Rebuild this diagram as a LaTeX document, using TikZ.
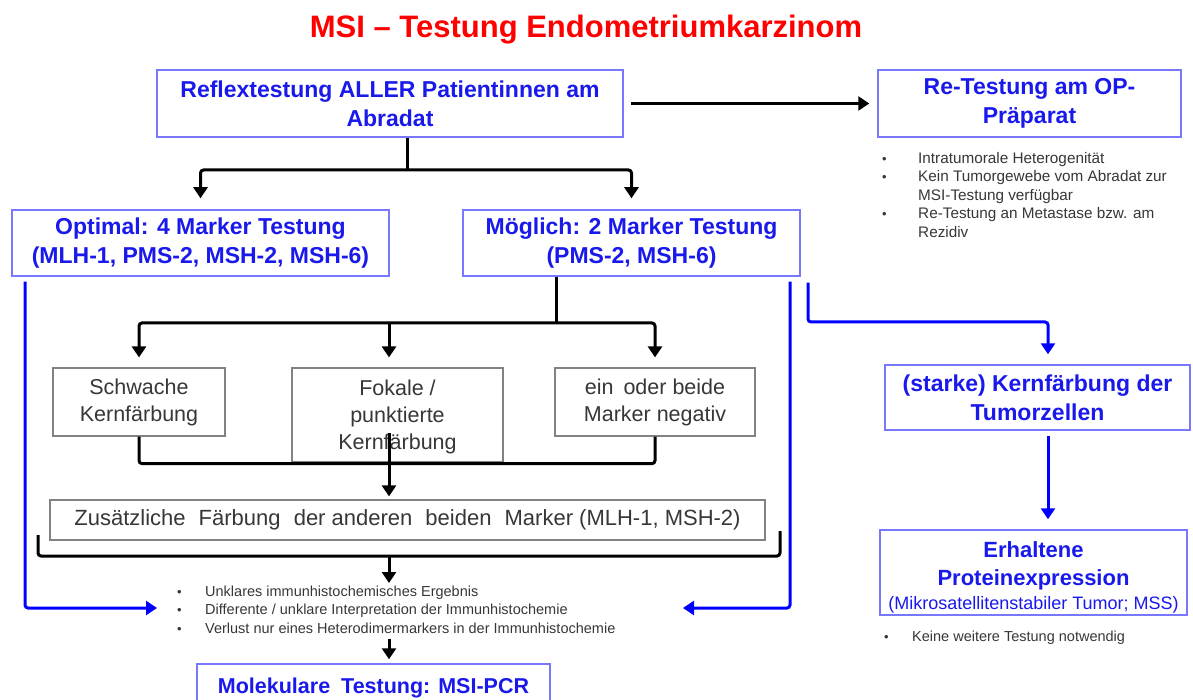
\documentclass[tikz,border=0pt]{standalone}
\usepackage{fontspec}
\setmainfont{Liberation Sans}
\usetikzlibrary{arrows.meta,calc}
\definecolor{tblue}{RGB}{25,25,235}
\definecolor{bblue}{RGB}{120,120,255}
\definecolor{lblue}{RGB}{0,0,255}
\definecolor{tred}{RGB}{255,0,0}
\definecolor{tgray}{RGB}{55,55,55}
\definecolor{bgray}{RGB}{130,130,130}
\newcommand{\bl}{{\fontsize{13}{13}\selectfont\textbullet}}
\begin{document}
\begin{tikzpicture}[x=1pt,y=-1pt,
  bbox/.style={draw=bblue, line width=1.5pt, text=tblue, font=\fontsize{23}{29}\selectfont\bfseries, align=center, inner sep=0pt},
  gbox/.style={draw=bgray, line width=1.2pt, text=tgray, font=\fontsize{21.5}{27}\selectfont, align=center, inner sep=0pt},
  bul/.style={font=\fontsize{14.5}{18.5}\selectfont, text=tgray, inner sep=0pt, anchor=north west},
  blk/.style={line width=3pt, black, rounded corners=3pt},
  blu/.style={line width=3pt, lblue, rounded corners=3pt},
  arr/.style={-{Triangle[width=14pt,length=11pt]}},
]
\useasboundingbox (0,0) rectangle (1193,700);
\fill[white] (0,0) rectangle (1193,700);

\node[text=tred, font=\fontsize{31}{36}\selectfont\bfseries] (title) at (586,30) {MSI -- Testung Endometriumkarzinom};

\node[bbox, minimum width=466pt, minimum height=67pt] (b1) at (390,103.5) {Reflextestung ALLER Patientinnen am\\Abradat};
\node[bbox, minimum width=303pt, minimum height=67pt] (b2) at (1029.5,103.5) {Re-Testung am OP-\\Präparat};
\node[bbox, minimum width=377pt, minimum height=66pt] (b3) at (200.5,243) {Optimal: 4 Marker Testung\\(MLH-1, PMS-2, MSH-2, MSH-6)};
\node[bbox, minimum width=337pt, minimum height=66pt] (b4) at (631.5,243) {Möglich: 2 Marker Testung\\(PMS-2, MSH-6)};

\node[gbox, minimum width=172pt, minimum height=68pt] (g1) at (139,402) {Schwache\\Kernfärbung};
\node[gbox, minimum width=211pt, minimum height=94pt, text depth=0pt] (g2) at (397.5,415) {Fokale /\\punktierte\\Kernfärbung};
\node[gbox, minimum width=200pt, minimum height=68pt] (g3) at (655,402) {ein\hspace{4pt} oder beide\\Marker negativ};
\node[gbox, minimum width=715pt, minimum height=40pt, font=\fontsize{22}{27}\selectfont] (g4) at (407.5,520) {Zusätzliche\hspace{7pt} Färbung\hspace{7pt} der anderen\hspace{7pt} beiden\hspace{7pt} Marker (MLH-1, MSH-2)};

\node[bbox, minimum width=353pt, minimum height=48pt, font=\fontsize{21.5}{26}\selectfont\bfseries] (b5) at (373.5,688) {Molekulare\hspace{5pt} Testung: MSI-PCR};

\node[bbox, minimum width=305pt, minimum height=65pt] (b6) at (1037.5,397.5) {(starke) Kernfärbung der\\Tumorzellen};
\node[bbox, minimum width=307pt, minimum height=85pt, font=\fontsize{22}{28}\selectfont\bfseries] (b7) at (1033.5,572.5) {\rule{0pt}{26pt}Erhaltene\\Proteinexpression\\[-4pt]{\fontsize{18}{22}\selectfont\mdseries(Mikrosatellitenstabiler Tumor; MSS)}};

\node[bul, font=\fontsize{15.3}{18.5}\selectfont] (rb) at (882,150) {\begin{tabular}{@{}p{36pt}@{}l@{}}
\bl & Intratumorale Heterogenität\\
\bl & Kein Tumorgewebe vom Abradat zur\\
 & MSI-Testung verfügbar\\
\bl & Re-Testung an Metastase bzw. am\\
 & Rezidiv
\end{tabular}};
\node[bul] (cb) at (177,583) {\begin{tabular}{@{}p{28pt}@{}l@{}}
\bl & Unklares immunhistochemisches Ergebnis\\
\bl & Differente / unklare Interpretation der Immunhistochemie\\
\bl & Verlust nur eines Heterodimermarkers in der Immunhistochemie
\end{tabular}};
\node[bul] (eb) at (884,628) {\begin{tabular}{@{}p{28pt}@{}l@{}}
\bl & Keine weitere Testung notwendig
\end{tabular}};

% black connectors
\draw[blk,arr,shorten <=7pt,shorten >=8pt] (b1.east) -- (b2.west);
\coordinate (j1) at (407,170);
\draw[blk] (b1.south -| j1) -- (j1);
\draw[blk,arr,shorten >=11pt] (j1) -| (b3.north);
\draw[blk,arr,shorten >=11pt] (j1) -| (b4.north);

\coordinate (j2) at (556,323);
\coordinate (m2) at (389,323);
\draw[blk] (b4.south -| j2) -- (j2);
\draw[blk,arr,shorten >=10pt] (j2) -| (g1.north);
\draw[blk,arr,shorten >=10pt] (j2) -| (g3.north);
\draw[blk,arr,shorten >=10pt] (m2) -- (m2 |- g2.north);

\draw[blk] (g1.south) -- ++(0,27) -| (g3.south);
\coordinate (m3) at (389,433);
\draw[blk,arr,shorten >=3pt] (m3) -- (m3 |- g4.north);

\coordinate (k1) at (38,535);
\coordinate (k2) at (780,531);
\coordinate (kb) at (389,556);
\draw[blk] (k1) -- (k1 |- kb) -- (k2 |- kb) -- (k2);
\draw[blk,arr] (kb) -- (kb |- cb.north);
\draw[blk,arr,shorten >=4pt] (cb.south -| kb) -- (kb |- b5.north);

% blue connectors
\coordinate (L) at (25,608);
\coordinate (Lend) at (157,608);
\draw[blu,arr,shorten <=5pt] (L |- b3.south) -- (L) -- (Lend);
\coordinate (R) at (790,608);
\coordinate (Rend) at (683,608);
\draw[blu,arr,shorten <=5pt] (R |- b4.south) -- (R) -- (Rend);
\coordinate (S) at (808,322);
\draw[blu,arr,shorten <=6pt,shorten >=10pt] (S |- b4.south) -- (S) -| ([xshift=10.5pt]b6.north);
\coordinate (T) at ([xshift=10.5pt]b6.south);
\draw[blu,arr,shorten <=5pt,shorten >=10pt] (T) -- (T |- b7.north);
\end{tikzpicture}
\end{document}
